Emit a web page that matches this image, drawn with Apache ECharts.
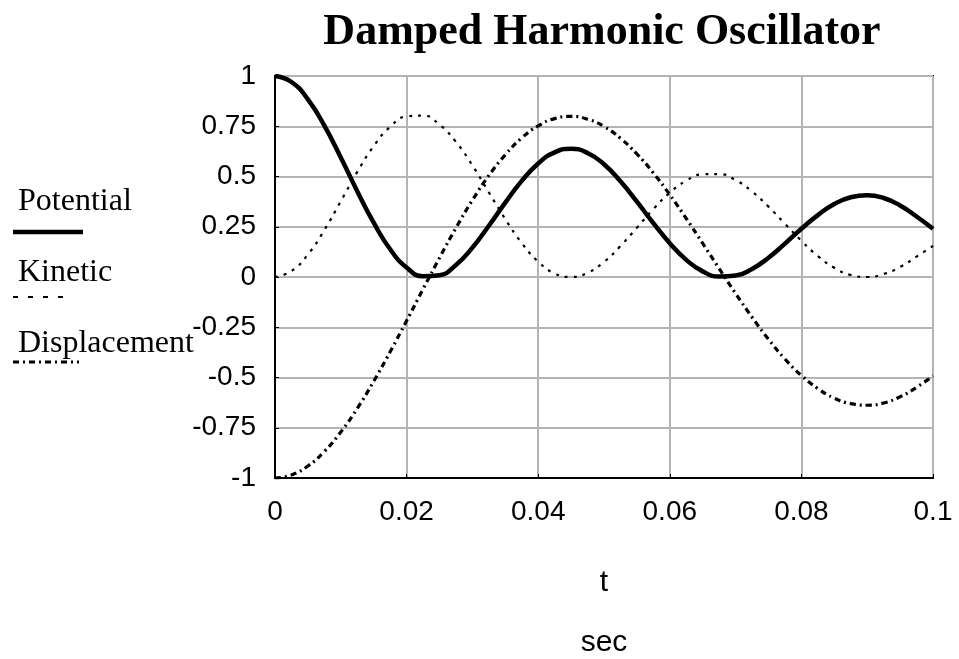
<!DOCTYPE html>
<html>
<head>
<meta charset="utf-8">
<script src="https://cdn.jsdelivr.net/npm/echarts@6/dist/echarts.min.js"></script>
<style>
  html, body { margin: 0; padding: 0; background: #fff; }
  #chart { width: 959px; height: 659px; }
</style>
</head>
<body>
<div id="chart"></div>
<script>
// time in seconds
var tiempos = [0, 0.0025, 0.005, 0.0075, 0.01, 0.0125, 0.015, 0.0175, 0.02, 0.0225,
  0.025, 0.0275, 0.03, 0.0325, 0.035, 0.0375, 0.04, 0.0425, 0.045, 0.0475,
  0.05, 0.0525, 0.055, 0.0575, 0.06, 0.0625, 0.065, 0.0675, 0.07, 0.0725,
  0.075, 0.0775, 0.08, 0.0825, 0.085, 0.0875, 0.09, 0.0925, 0.095, 0.0975, 0.1];

var potencial = [1, 0.970, 0.884, 0.753, 0.595, 0.427, 0.270, 0.138, 0.047, 0.004,
  0.009, 0.060, 0.146, 0.255, 0.370, 0.478, 0.565, 0.620, 0.638, 0.617,
  0.561, 0.476, 0.375, 0.268, 0.168, 0.085, 0.028, 0.002, 0.007, 0.040,
  0.096, 0.166, 0.240, 0.308, 0.363, 0.397, 0.407, 0.393, 0.356, 0.301, 0.240];

var cinetica = [0, 0.030, 0.112, 0.234, 0.377, 0.523, 0.651, 0.747, 0.799, 0.803,
  0.758, 0.672, 0.555, 0.421, 0.288, 0.169, 0.076, 0.018, 0, 0.021,
  0.075, 0.154, 0.245, 0.338, 0.419, 0.479, 0.511, 0.512, 0.482, 0.425,
  0.350, 0.265, 0.180, 0.104, 0.046, 0.010, 0, 0.015, 0.050, 0.101, 0.155];

var desplazamiento = [-1, -0.985, -0.940, -0.868, -0.771, -0.654, -0.519, -0.372, -0.218, -0.060,
  0.095, 0.244, 0.382, 0.505, 0.608, 0.692, 0.752, 0.788, 0.799, 0.785,
  0.749, 0.690, 0.612, 0.518, 0.409, 0.291, 0.167, 0.042, -0.082, -0.200,
  -0.310, -0.408, -0.490, -0.555, -0.603, -0.630, -0.638, -0.627, -0.596, -0.549, -0.492];

var ticksX = [0, 0.02, 0.04, 0.06, 0.08, 0.1];
var ticksY = [-1, -0.75, -0.5, -0.25, 0, 0.25, 0.5, 0.75, 1];

function armarPares(ys){
  var pares = [];
  for (var i = 0; i < tiempos.length; i++) {
    pares.push([tiempos[i], ys[i]]);
  }
  return pares;
}

var fuenteTicks = '"Liberation Sans", Arial, sans-serif';
var fuenteSerif = '"Liberation Serif", "DejaVu Serif", serif';

function itemLeyenda(texto, y, lineaY, ancho, grosor, dash){
  return {
    type: 'group',
    children: [
      { type: 'text', left: 18, top: y,
        style: { text: texto, font: '32px ' + fuenteSerif, fill: '#000' } },
      { type: 'line',
        shape: { x1: 13, y1: lineaY, x2: 13 + ancho, y2: lineaY },
        style: { stroke: '#000', lineWidth: grosor, lineDash: dash } }
    ]
  };
}

var myChart = echarts.init(document.getElementById('chart'));
myChart.setOption({
  animation: false,
  backgroundColor: '#fff',
  title: {
    text: 'Damped Harmonic Oscillator',
    left: 597,
    top: 6,
    textAlign: 'center',
    textStyle: { fontFamily: fuenteSerif, fontWeight: 'bold', fontSize: 44, color: '#000' }
  },
  grid: {
    left: 275, right: 26, top: 76, bottom: 181,
    outerBoundsMode: 'none',
    containLabel: false,
    show: true, borderColor: '#000', borderWidth: 2
  },
  xAxis: {
    type: 'value',
    min: ticksX[0], max: ticksX[ticksX.length - 1], interval: 0.02,
    name: 't\n\n\nsec',
    nameLocation: 'middle',
    nameGap: 95,
    nameTextStyle: { fontFamily: '"Liberation Sans", sans-serif', fontSize: 30, color: '#000', lineHeight: 20 },
    axisLine: { onZero: false, lineStyle: { color: '#000', width: 2 } },
    axisTick: { inside: true, length: 4, lineStyle: { color: '#000' } },
    axisLabel: { fontFamily: fuenteTicks, fontSize: 28, color: '#000', margin: 20 },
    splitLine: { show: true, lineStyle: { color: '#b4b4b4', width: 2 } }
  },
  yAxis: {
    type: 'value',
    min: ticksY[0], max: ticksY[ticksY.length - 1], interval: 0.25,
    axisLine: { onZero: false, lineStyle: { color: '#000', width: 2 } },
    axisTick: { inside: true, length: 4, lineStyle: { color: '#000' } },
    axisLabel: { fontFamily: fuenteTicks, fontSize: 28, color: '#000', margin: 19 },
    splitLine: { show: true, lineStyle: { color: '#b4b4b4', width: 2 } }
  },
  graphic: [
    itemLeyenda('Potential', 186, 232, 70, 4.5, null),
    itemLeyenda('Kinetic', 257, 297, 56, 2, [5, 10]),
    itemLeyenda('Displacement', 328, 362, 66, 3, [6, 4, 2, 4])
  ],
  series: [
    {
      name: 'Potential', type: 'line', smooth: true, showSymbol: false,
      data: armarPares(potencial),
      lineStyle: { color: '#000', width: 4.5 }
    },
    {
      name: 'Kinetic', type: 'line', smooth: true, showSymbol: false,
      data: armarPares(cinetica),
      lineStyle: { color: '#000', width: 2.2, type: [3, 6] }
    },
    {
      name: 'Displacement', type: 'line', smooth: true, showSymbol: false,
      data: armarPares(desplazamiento),
      lineStyle: { color: '#000', width: 3.2, type: [6, 4, 2, 4] }
    }
  ]
});
</script>
</body>
</html>
